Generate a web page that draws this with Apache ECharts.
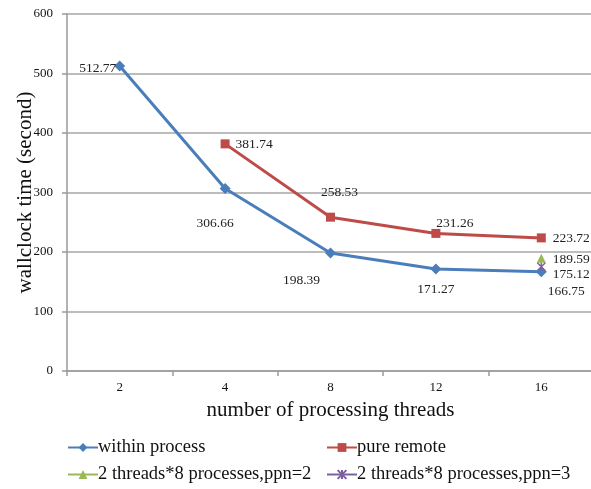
<!DOCTYPE html>
<html>
<head>
<meta charset="utf-8">
<script src="https://cdn.jsdelivr.net/npm/echarts@6/dist/echarts.min.js"></script>
<style>html,body{margin:0;padding:0;background:#fff}#c{width:591px;height:489px}</style>
</head>
<body>
<div id="c"></div>
<script>
const categories = ['2', '4', '8', '12', '16'];
const withinProcess = [512.77, 306.66, 198.39, 171.27, 166.75];
const pureRemote = [null, 381.74, 258.53, 231.26, 223.72];
const ppn2 = [null, null, null, null, 189.59];
const ppn3 = [null, null, null, null, 175.12];
const yTicks = [0, 100, 200, 300, 400, 500, 600];

const seriesNames = ['within process', 'pure remote', '2 threads*8 processes,ppn=2', '2 threads*8 processes,ppn=3'];

// label offsets (style, not data)
const withinOffsets = [[-22, 3], [-10, 35], [-29, 27], [0, 20], [25, 20]];
const remoteOffsets = [null, [29, 1], [9, -25], [19, -10], [30, 1]];
const ppn2Offsets = [null, null, null, null, [30, 1]];
const ppn3Offsets = [null, null, null, null, [30, 8]];

const FONT = "'Liberation Serif', 'Times New Roman', serif";
const xPath = 'path://M0,0 L10,10 M10,0 L0,10 M5,0 L5,10';

function withLabels(values, offsets) {
  return values.map((v, i) => {
    if (v == null) return null;
    return {
      value: v,
      label: {
        show: true,
        position: 'inside',
        offset: offsets[i],
        formatter: v.toFixed(2)
      }
    };
  });
}

const labelStyle = { color: '#222', fontFamily: FONT, fontSize: 13.5 };

const chart = echarts.init(document.getElementById('c'), null, { renderer: 'canvas' });
chart.setOption({
  animation: false,
  backgroundColor: '#fff',
  grid: { left: 67, right: -3, top: 14, bottom: 118, containLabel: false, outerBoundsMode: 'none' },
  xAxis: {
    type: 'category',
    data: categories,
    boundaryGap: true,
    name: 'number of processing threads',
    nameLocation: 'middle',
    nameGap: 29,
    nameMoveOverlap: false,
    nameTextStyle: { fontFamily: FONT, fontSize: 21, color: '#111' },
    axisLine: { lineStyle: { color: '#9a9a9a', width: 1.5 } },
    axisTick: { show: true, length: 5, lineStyle: { color: '#9a9a9a', width: 1.5 } },
    axisLabel: { fontFamily: FONT, fontSize: 13, color: '#111', margin: 10 },
    splitLine: { show: false }
  },
  yAxis: {
    type: 'value',
    min: yTicks[0],
    max: yTicks[yTicks.length - 1],
    interval: 100,
    name: 'wallclock time (second)',
    nameLocation: 'middle',
    nameGap: 31,
    nameMoveOverlap: false,
    nameRotate: 90,
    nameTextStyle: { fontFamily: FONT, fontSize: 21, color: '#111' },
    axisLine: { show: true, lineStyle: { color: '#9a9a9a', width: 1.5 } },
    axisTick: { show: true, length: 5, lineStyle: { color: '#9a9a9a', width: 1.5 } },
    axisLabel: { fontFamily: FONT, fontSize: 13, color: '#111', margin: 14 },
    splitLine: { show: true, lineStyle: { color: '#a6a6a6', width: 1.5 } }
  },
  legend: [
    {
      orient: 'vertical', left: 67, top: 438, padding: 0, itemGap: 8, itemWidth: 30, itemHeight: 11,
      textStyle: { fontFamily: FONT, fontSize: 18.5, color: '#111', padding: [0, 0, 0, -5] },
      data: [seriesNames[0], seriesNames[2]]
    },
    {
      orient: 'vertical', left: 326, top: 438, padding: 0, itemGap: 8, itemWidth: 30, itemHeight: 11,
      textStyle: { fontFamily: FONT, fontSize: 18.5, color: '#111', padding: [0, 0, 0, -5] },
      data: [seriesNames[1], seriesNames[3]]
    }
  ],
  series: [
    {
      name: seriesNames[0], type: 'line', data: withLabels(withinProcess, withinOffsets),
      symbol: 'diamond', symbolSize: 11, color: '#4a7ebb',
      lineStyle: { width: 3, color: '#4a7ebb' }, itemStyle: { color: '#4a7ebb' },
      label: labelStyle, z: 2
    },
    {
      name: seriesNames[1], type: 'line', data: withLabels(pureRemote, remoteOffsets),
      symbol: 'rect', symbolSize: 9, color: '#be4b48', connectNulls: false,
      lineStyle: { width: 3, color: '#be4b48' }, itemStyle: { color: '#be4b48' },
      label: labelStyle, z: 3
    },
    {
      name: seriesNames[2], type: 'line', data: withLabels(ppn2, ppn2Offsets),
      symbol: 'triangle', symbolSize: 9, color: '#98b954',
      lineStyle: { width: 3, color: '#98b954' }, itemStyle: { color: '#98b954' },
      label: labelStyle, z: 4
    },
    {
      name: seriesNames[3], type: 'line', data: withLabels(ppn3, ppn3Offsets),
      symbol: xPath, symbolSize: 8, color: '#7d60a0',
      lineStyle: { width: 3, color: '#7d60a0' },
      itemStyle: { color: '#7d60a0', borderColor: '#7d60a0', borderWidth: 1.5 },
      label: labelStyle, z: 5
    }
  ]
});
</script>
</body>
</html>
